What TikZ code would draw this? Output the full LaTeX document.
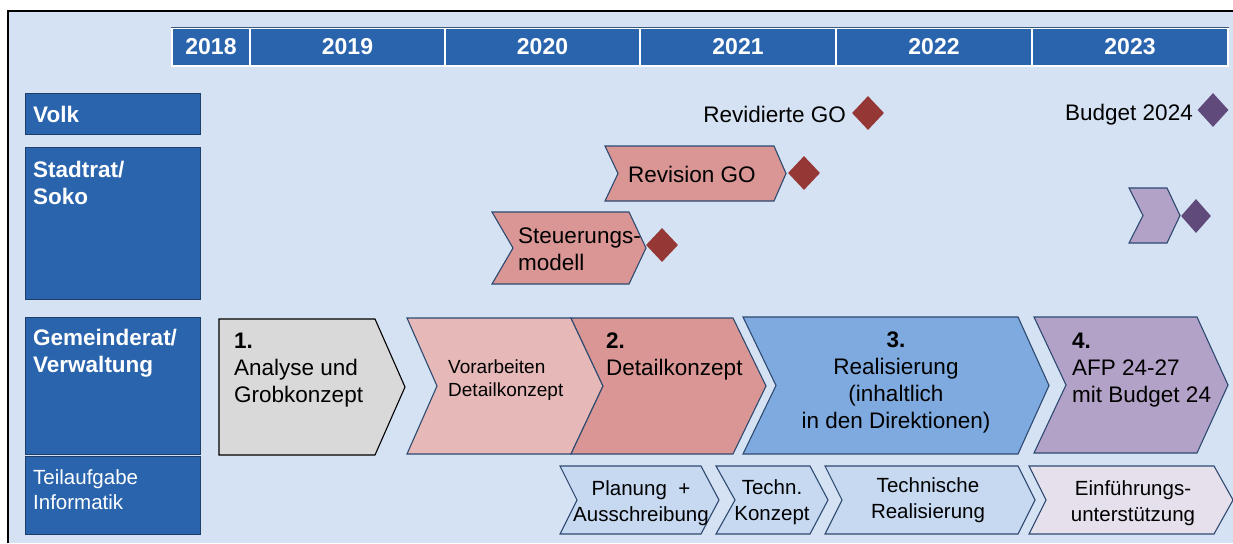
\documentclass[tikz,border=0pt]{standalone}
\usepackage{fontspec}
\setmainfont{Liberation Sans}
\usetikzlibrary{shapes.geometric,positioning,calc}
\definecolor{paneBg}{HTML}{D4E2F4}
\definecolor{laneBlue}{HTML}{2A64AD}
\definecolor{laneEdge}{HTML}{1F3F6B}
\definecolor{hdrEdge}{HTML}{3B5878}
\definecolor{chevEdge}{HTML}{2E4A70}
\definecolor{stageGray}{HTML}{D9D9D9}
\definecolor{roseLight}{HTML}{E6B9B8}
\definecolor{rose}{HTML}{D99694}
\definecolor{stageBlue}{HTML}{7FAADF}
\definecolor{lilac}{HTML}{B3A2C7}
\definecolor{subBlue}{HTML}{C6D9F1}
\definecolor{subLilac}{HTML}{E6E0EC}
\definecolor{goRed}{HTML}{953735}
\definecolor{budPurple}{HTML}{604A7B}
% chevron: style, left x, body right x, top y, bottom y, notch, tip
\newcommand{\chev}[7]{\draw[#1] (#2,#4) -- (#3,#4) -- ({#3+#7},{(#4+#5)/2}) -- (#3,#5) -- (#2,#5) -- ({#2+#6},{(#4+#5)/2}) -- cycle;}

\begin{document}
\begin{tikzpicture}[
  x=1pt,y=-1pt,
  every node/.style={inner sep=0pt},
  lanebox/.style ={rectangle,draw=laneEdge,line width=0.8pt,fill=laneBlue,anchor=north west,minimum width=175},
  lanetxt/.style ={text=white,font=\bfseries\fontsize{22.5}{27}\selectfont,align=left,anchor=north west},
  yearcell/.style={rectangle,draw=white,line width=1.2pt,fill=laneBlue,minimum height=38,text=white,font=\bfseries\fontsize{23}{27}\selectfont},
  stage/.style   ={draw=chevEdge,line width=1.1pt},
  stagetxt/.style={font=\fontsize{22.5}{27}\selectfont,align=left,anchor=north west},
  subtxt/.style  ={font=\fontsize{20.5}{26}\selectfont,align=center,anchor=north},
  ms/.style      ={diamond,minimum width=32,minimum height=34}
]
% frame
\useasboundingbox (0,0) rectangle (1233,543);
\fill[white] (0,0) rectangle (1233,543);
\fill[paneBg] (8,11) rectangle (1233,543);
\draw[black,line width=2pt] (8,543) -- (8,11) -- (1233,11);

% years
\foreach \yr/\xa/\xb in {2018/172/250,2019/250/445,2020/445/640,2021/640/836,2022/836/1032,2023/1032/1228}
  \node[yearcell,minimum width=\xb-\xa] (y\yr) at ({(\xa+\xb)/2},47) {\yr};
\draw[hdrEdge,line width=1.5pt] (y2018.north west) -- (y2023.north east);

% lanes
\node[lanebox,minimum height=41]  (volk)  at (25,93)  {};
\node[lanebox,minimum height=152] (stadt) at (25,147) {};
\node[lanebox,minimum height=137] (gem)   at (25,317) {};
\node[lanebox,minimum height=78]  (inf)   at (25,456) {};
\node[lanetxt,anchor=west] (volkT) at (33,114) {Volk};
\node[lanetxt] (stadtT) at (33,161) {Stadtrat/\\Soko};
\node[lanetxt] (gemT) at (33,329) {Gemeinderat/\\Verwaltung};
\node[lanetxt,font=\fontsize{20.5}{25}\selectfont] (infT) at (33,469) {Teilaufgabe\\Informatik};

% Volk
\node[ms,fill=goRed] (dGO) at (868,113) {};
\node[font=\fontsize{22.5}{27}\selectfont,anchor=base east] (tGO) at (846,122) {Revidierte GO};
\node[ms,fill=budPurple,minimum width=31] (dBud) at (1213,110) {};
\node[font=\fontsize{22.5}{27}\selectfont,anchor=base east] (tBud) at (1193,120) {Budget 2024};

% Stadtrat / Soko
\chev{stage,fill=rose}{605}{774}{146}{201}{13}{12}
\node[font=\fontsize{22.5}{27}\selectfont,anchor=base west] (rev) at (628,182) {Revision GO};
\node[ms,fill=goRed] (dRev) at (804,173) {};
\chev{stage,fill=rose}{492}{629}{212}{284}{21}{17}
\node[stagetxt] (steu) at (518,228) {Steuerungs-\\modell};
\node[ms,fill=goRed] (dSteu) at (662,245) {};
\chev{stage,fill=lilac}{1129}{1167}{188}{243}{14}{13}
\node[ms,fill=budPurple,minimum width=30] (dAfp) at (1196,216) {};

% Gemeinderat / Verwaltung
\chev{draw=black,line width=1.1pt,fill=stageGray}{219}{375}{319}{455}{0}{30}
\node[stagetxt] (s1) at (234,333) {\textbf{1.}\\Analyse und\\Grobkonzept};
\chev{stage,fill=roseLight}{407}{571}{318}{454}{30}{32}
\node[stagetxt,font=\fontsize{19}{22.5}\selectfont] (pre) at (448,360) {Vorarbeiten\\Detailkonzept};
\chev{stage,fill=rose}{571}{733}{318}{454}{32}{33}
\node[stagetxt] (s2) at (606,333) {\textbf{2.}\\Detailkonzept};
\chev{stage,fill=stageBlue}{743}{1018}{317}{454}{33}{31}
\node[stagetxt,align=center,anchor=north] (s3) at (896,332) {\textbf{3.}\\Realisierung\\(inhaltlich\\in den Direktionen)};
\chev{stage,fill=lilac}{1034}{1197}{317}{453}{32}{31}
\node[stagetxt] (s4) at (1072,333) {\textbf{4.}\\AFP 24-27\\mit Budget 24};

% Teilaufgabe Informatik
\chev{stage,fill=subBlue}{560}{701}{466}{534}{17}{18}
\node[subtxt] (plan) at (641,480) {Planung~ +\\Ausschreibung};
\chev{stage,fill=subBlue}{716}{810}{466}{534}{19}{18}
\node[subtxt] (tk) at (772,479) {Techn.\\Konzept};
\chev{stage,fill=subBlue}{825}{1018}{466}{534}{17}{17}
\node[subtxt] (tr) at (928,477) {Technische\\Realisierung};
\chev{stage,fill=subLilac}{1029}{1214}{466}{534}{17}{19}
\node[subtxt] (ein) at (1133,480) {Einführungs-\\unterstützung};
\end{tikzpicture}
\end{document}
